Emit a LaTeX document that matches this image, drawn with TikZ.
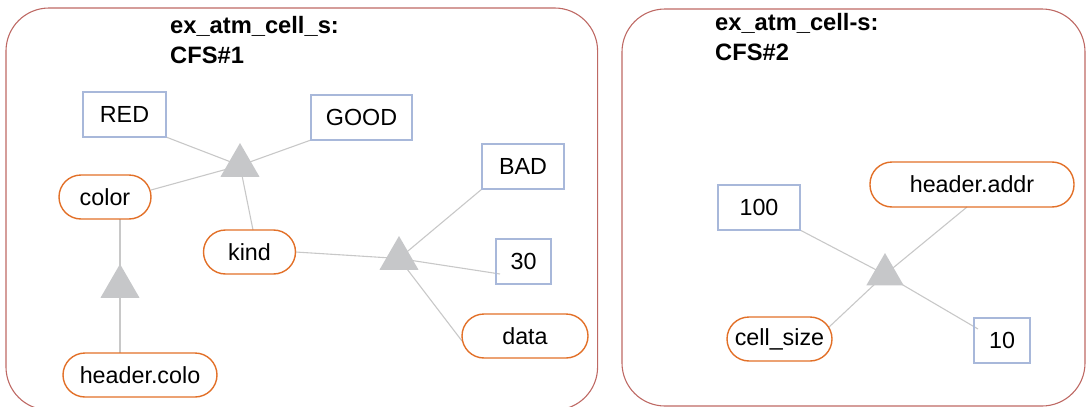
\documentclass[tikz,border=0pt]{standalone}
\usepackage{fontspec}
\setmainfont{Liberation Sans}
\usetikzlibrary{shapes.geometric}
\pgfdeclarelayer{bg}
\pgfsetlayers{bg,main}
\definecolor{framec}{RGB}{190,105,100}
\definecolor{boxc}{RGB}{168,184,218}
\definecolor{pillc}{RGB}{226,112,40}
\definecolor{edgec}{RGB}{200,200,200}
\definecolor{tric}{RGB}{198,199,201}
\begin{document}
\begin{tikzpicture}[x=1pt,y=-1pt,
  frame/.style={draw=framec,line width=1.1pt,rounded corners=43pt},
  txt/.style={font=\fontsize{23.3}{28}\selectfont},
  valbox/.style={txt,draw=boxc,line width=1.2pt,inner sep=0pt,outer sep=0pt,minimum height=45pt},
  featpill/.style={txt,draw=pillc,line width=1.4pt,rounded corners=22pt,inner sep=0pt,outer sep=0pt,minimum height=44pt},
  tri/.style={regular polygon,regular polygon sides=3,fill=tric,inner sep=0pt,outer sep=0pt,minimum size=45pt},
  link/.style={draw=edgec,line width=1.1pt},
  ttl/.style={font=\bfseries\fontsize{23.7}{28}\selectfont,inner sep=0pt,anchor=base west}]
\useasboundingbox (0,0) rectangle (1088,407);
\clip (0,0) rectangle (1088,407);

% ---- left panel ----
\node[ttl] (tla) at (170,33.5) {ex\_atm\_cell\_s:};
\node[ttl] (tlb) at (170,63) {CFS\#1};

\node[valbox,minimum width=83pt] (red) at (124.5,114.5) {RED};
\node[valbox,minimum width=101pt] (good) at (361.5,117.5) {GOOD};
\node[valbox,minimum width=82pt] (bad) at (523,166.5) {BAD};
\node[valbox,minimum width=55pt] (n30) at (523.5,261.5) {30};
\node[featpill,minimum width=92pt] (color) at (105,197) {color};
\node[featpill,minimum width=92pt] (kind) at (249.5,252) {kind};
\node[featpill,minimum width=126pt] (data) at (525,336) {data};
\node[featpill,minimum width=154pt] (hcolo) at (140,375) {header.colo};

\node[tri] (t1) at (240,165.5) {};
\node[tri] (t2) at (399,258.5) {};
\node[tri] (t3) at (120,286.5) {};

% ---- right panel ----
\node[ttl] (tra) at (715,30) {ex\_atm\_cell-s:};
\node[ttl] (trb) at (715,60) {CFS\#2};

\node[valbox,minimum width=82pt] (n100) at (759,207.5) {100};
\node[featpill,minimum width=204pt,minimum height=45pt] (haddr) at (972,184.5) {header.addr};
\node[featpill,minimum width=105pt] (csize) at (779.5,339) {cell\_size};
\node[valbox,minimum width=56pt] (n10) at (1002,340.5) {10};
\node[tri,minimum size=43pt] (t4) at (885,274.5) {};

\begin{pgfonlayer}{bg}
\draw[frame] (6,8) rectangle (597.6,410);
\draw[frame] (622,9) rectangle (1085,406);

\draw[link] (red.south east) -- (t1.center);
\draw[link] (good.south west) -- (t1.center);
\draw[link] ([yshift=7pt]color.east) -- (t1.center);
\draw[link] ([xshift=3.5pt]kind.north) -- (t1.center);
\draw[link] (color.south -| t3.center) -- (t3.center);
\draw[link] (t3.center) -- (hcolo.north -| t3.center);
\draw[link] (kind.east) -- (t2.center);
\draw[link] (bad.south west) -- (t2.center);
\draw[link] ([xshift=4pt,yshift=10pt]n30.south west) -- (t2.center);
\draw[link] ([yshift=-5pt]data.west) -- (t2.center);

\draw[link] (n100.south east) -- (t4.center);
\draw[link] ([xshift=-5pt]haddr.south) -- (t4.center);
\draw[link] ([xshift=-4pt,yshift=-11pt]csize.north east) -- (t4.center);
\draw[link] ([xshift=4pt,yshift=-11pt]n10.north west) -- (t4.center);
\end{pgfonlayer}
\end{tikzpicture}
\end{document}
